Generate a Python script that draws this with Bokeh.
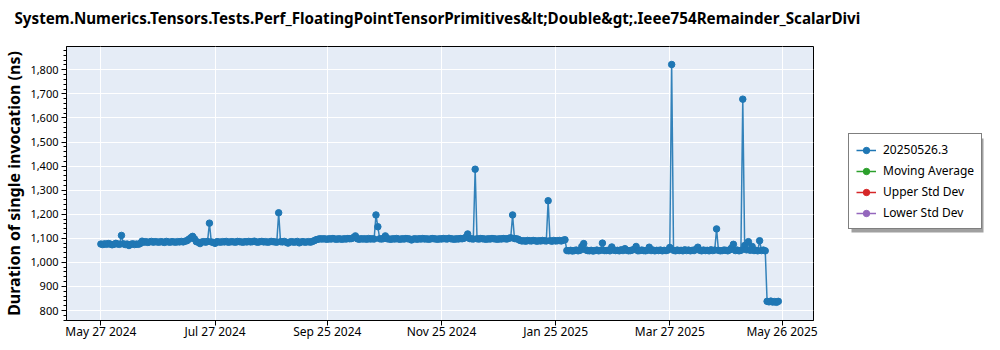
import datetime as dt
import pandas as pd
from bokeh.plotting import figure
from bokeh.layouts import row, column
from bokeh.core.properties import value
from bokeh.models import (Range1d, FixedTicker, DatetimeTickFormatter, NumeralTickFormatter,
                          Legend, LegendItem, SingleIntervalTicker)
from bokeh.embed import file_html
from bokeh.resources import INLINE

title_text = ("System.Numerics.Tensors.Tests.Perf_FloatingPointTensorPrimitives&lt;Double&gt;"
              ".Ieee754Remainder_ScalarDivi")
y_label = "Duration of single invocation (ns)"

# one run per day, starting on this date
start_date = "2024-05-27"
durations = [
    1076, 1074, 1077, 1075, 1078, 1076, 1073, 1075, 1079, 1076,   # May 27
    1075, 1112, 1077, 1074, 1076, 1070, 1075, 1077, 1074, 1076,   # Jun 6
    1075, 1078, 1088, 1084, 1086, 1083, 1085, 1087, 1084, 1086,   # Jun 16
    1085, 1084, 1086, 1085, 1083, 1087, 1085, 1084, 1086, 1085,   # Jun 26
    1084, 1086, 1085, 1087, 1085, 1088, 1090, 1096, 1102, 1108,   # Jul 6
    1098, 1086, 1084, 1078, 1085, 1086, 1084, 1087, 1163, 1085,   # Jul 16
    1083, 1079, 1086, 1085, 1084, 1086, 1085, 1087, 1084, 1085,   # Jul 26
    1086, 1085, 1084, 1087, 1086, 1085, 1084, 1086, 1085, 1087,   # Aug 5
    1085, 1086, 1088, 1085, 1084, 1086, 1087, 1085, 1086, 1084,   # Aug 15
    1085, 1087, 1086, 1085, 1084, 1206, 1086, 1085, 1087, 1084,   # Aug 25
    1080, 1085, 1086, 1084, 1085, 1087, 1081, 1085, 1086, 1084,   # Sep 4
    1085, 1086, 1084, 1087, 1090, 1094, 1096, 1098, 1097, 1098,   # Sep 14
    1097, 1096, 1098, 1097, 1099, 1097, 1096, 1098, 1097, 1096,   # Sep 24
    1098, 1097, 1099, 1098, 1099, 1103, 1110, 1098, 1096, 1098,   # Oct 4
    1097, 1098, 1096, 1099, 1097, 1098, 1097, 1197, 1148, 1098,   # Oct 14
    1097, 1099, 1110, 1098, 1097, 1096, 1098, 1097, 1099, 1097,   # Oct 24
    1096, 1098, 1097, 1099, 1098, 1097, 1093, 1097, 1098, 1096,   # Nov 3
    1098, 1097, 1099, 1097, 1098, 1096, 1097, 1099, 1098, 1097,   # Nov 13
    1096, 1098, 1097, 1099, 1098, 1097, 1100, 1098, 1097, 1096,   # Nov 23
    1098, 1097, 1099, 1098, 1100, 1104, 1118, 1099, 1098, 1097,   # Dec 3
    1387, 1098, 1097, 1099, 1098, 1097, 1096, 1098, 1097, 1099,   # Dec 13
    1098, 1097, 1096, 1098, 1097, 1099, 1098, 1097, 1100, 1102,   # Dec 23
    1197, 1099, 1098, 1096, 1091, 1089, 1090, 1088, 1091, 1090,   # Jan 2
    1089, 1091, 1090, 1088, 1090, 1089, 1091, 1090, 1089, 1256,   # Jan 12
    1090, 1088, 1091, 1089, 1090, 1091, 1089, 1092, 1094, 1049,   # Jan 22
    1048, 1050, 1047, 1049, 1051, 1048, 1050, 1066, 1078, 1052,   # Feb 1
    1049, 1048, 1050, 1047, 1049, 1051, 1048, 1050, 1080, 1049,   # Feb 11
    1049, 1050, 1048, 1064, 1051, 1049, 1050, 1048, 1052, 1049,   # Feb 21
    1057, 1050, 1048, 1049, 1051, 1055, 1066, 1048, 1049, 1051,   # Mar 3
    1049, 1048, 1050, 1063, 1049, 1051, 1048, 1050, 1049, 1051,   # Mar 13
    1048, 1050, 1049, 1051, 1062, 1822, 1050, 1048, 1051, 1049,   # Mar 23
    1050, 1048, 1052, 1049, 1051, 1048, 1050, 1049, 1055, 1063,   # Apr 2
    1050, 1048, 1051, 1049, 1050, 1048, 1052, 1049, 1051, 1139,   # Apr 12
    1050, 1048, 1049, 1051, 1050, 1048, 1052, 1060, 1075, 1049,   # Apr 22
    1051, 1048, 1050, 1678, 1070, 1052, 1086, 1050, 1066, 1049,   # May 2
    1050, 1048, 1090, 1049, 1051, 1048, 838, 836, 839, 835,       # May 12
    837, 834, 838,                                                # May 22
]

tick_dates = ["2024-05-27", "2024-07-27", "2024-09-25", "2024-11-25",
              "2025-01-25", "2025-03-27", "2025-05-26"]
y_ticks = [800, 900, 1000, 1100, 1200, 1300, 1400, 1500, 1600, 1700, 1800]

series_names = ["20250526.3", "Moving Average", "Upper Std Dev", "Lower Std Dev"]
series_colors = ["#1f77b4", "#2ca02c", "#d62728", "#9467bd"]

dates = pd.date_range(start_date, periods=len(durations), freq="D")

FONT = "Noto Sans"
NAN = float("nan")

# ---- title strip -------------------------------------------------------
tp = figure(width=1000, height=45, output_backend="svg", toolbar_location=None,
            x_range=Range1d(0, 1000), y_range=Range1d(0, 45), min_border=0,
            title=None, x_axis_location=None, y_axis_location=None,
            outline_line_color=None, background_fill_color="white",
            border_fill_color="white")
tp.grid.visible = False
tp.text(x=[14], y=[28], text=[title_text], text_font=value(FONT),
        text_font_size="15.2px", text_font_style="bold", text_color="black",
        text_align="left", text_baseline="alphabetic")

# ---- main chart --------------------------------------------------------
p = figure(
    x_axis_type="datetime",
    width=823, height=305,
    output_backend="svg", toolbar_location=None, title=None,
    x_range=Range1d(dt.datetime(2024, 5, 8, 15), dt.datetime(2025, 6, 11, 19)),
    y_range=Range1d(758.5, 1896.8),
    min_border_left=63, min_border_right=10, min_border_top=1, min_border_bottom=30,
    background_fill_color="#e5ecf6", border_fill_color="white",
)
p.outline_line_color = "black"
p.outline_line_width = 1

xa = p.xaxis[0]
xa.ticker = FixedTicker(ticks=[pd.Timestamp(d).value / 1e6 for d in tick_dates])
xa.formatter = DatetimeTickFormatter(days="%b %d %Y", months="%b %d %Y", years="%b %d %Y")
xa.major_label_text_font = FONT
xa.major_label_text_font_size = "12px"
xa.major_label_text_color = "black"
xa.axis_line_color = "black"
xa.major_tick_line_color = "black"
xa.major_tick_out = 5
xa.major_tick_in = 0
xa.minor_tick_line_color = None
xa.major_label_standoff = -3

ya = p.yaxis[0]
ya.ticker = SingleIntervalTicker(interval=100, num_minor_ticks=5)
ya.formatter = NumeralTickFormatter(format="0,0")
ya.axis_label = y_label
ya.axis_label_text_font = FONT
ya.axis_label_text_font_size = "16px"
ya.axis_label_text_font_style = "bold"
ya.axis_label_text_color = "black"
ya.axis_label_standoff = 2
ya.major_label_text_font = FONT
ya.major_label_text_font_size = "11px"
ya.major_label_text_color = "black"
ya.axis_line_color = "black"
ya.major_tick_line_color = "black"
ya.minor_tick_line_color = "black"
ya.major_tick_out = 5
ya.major_tick_in = 0
ya.minor_tick_out = 3
ya.minor_tick_in = 0
ya.major_label_standoff = 3

p.xgrid.ticker = xa.ticker
p.ygrid.ticker = FixedTicker(ticks=y_ticks)
p.grid.grid_line_color = "white"
p.grid.grid_line_width = 1

p.line(dates, durations, color=series_colors[0], line_width=1.5, line_alpha=0.9)
p.scatter(dates, durations, size=6.5, color=series_colors[0])

# ---- legend panel: same top/bottom borders as the chart, so its frame
#      spans the chart frame's height (274 px); coordinates are pixels -------
lp = figure(width=177, height=305, output_backend="svg", toolbar_location=None,
            x_range=Range1d(0, 177), y_range=Range1d(0, 274),
            min_border_left=0, min_border_right=0, min_border_top=1, min_border_bottom=30,
            title=None, x_axis_location=None, y_axis_location=None,
            outline_line_color=None, background_fill_color="white",
            border_fill_color="white")
lp.grid.visible = False

# drop shadow behind the legend box
lp.quad(left=[28], right=[160], bottom=[88], top=[182],
        fill_color="#8f8f8f", fill_alpha=0.85, line_color=None)

items = []
for name, col in zip(series_names, series_colors):
    lr = lp.line([NAN], [NAN], color=col, line_width=1.5)
    sr = lp.scatter([NAN], [NAN], size=6, color=col)
    items.append(LegendItem(label=name, renderers=[lr, sr]))

legend = Legend(items=items, location=(25, 91), background_fill_color="white",
                background_fill_alpha=1, border_line_color="black", border_line_width=1,
                label_text_color="black", label_text_font=FONT, label_text_font_size="12px",
                glyph_width=20, glyph_height=16, label_height=16, spacing=4,
                padding=7, margin=0, label_standoff=7)
lp.add_layout(legend)

layout = column(tp, row(p, lp, spacing=0), spacing=0)
open("out.html", "w").write(file_html(layout, INLINE))
